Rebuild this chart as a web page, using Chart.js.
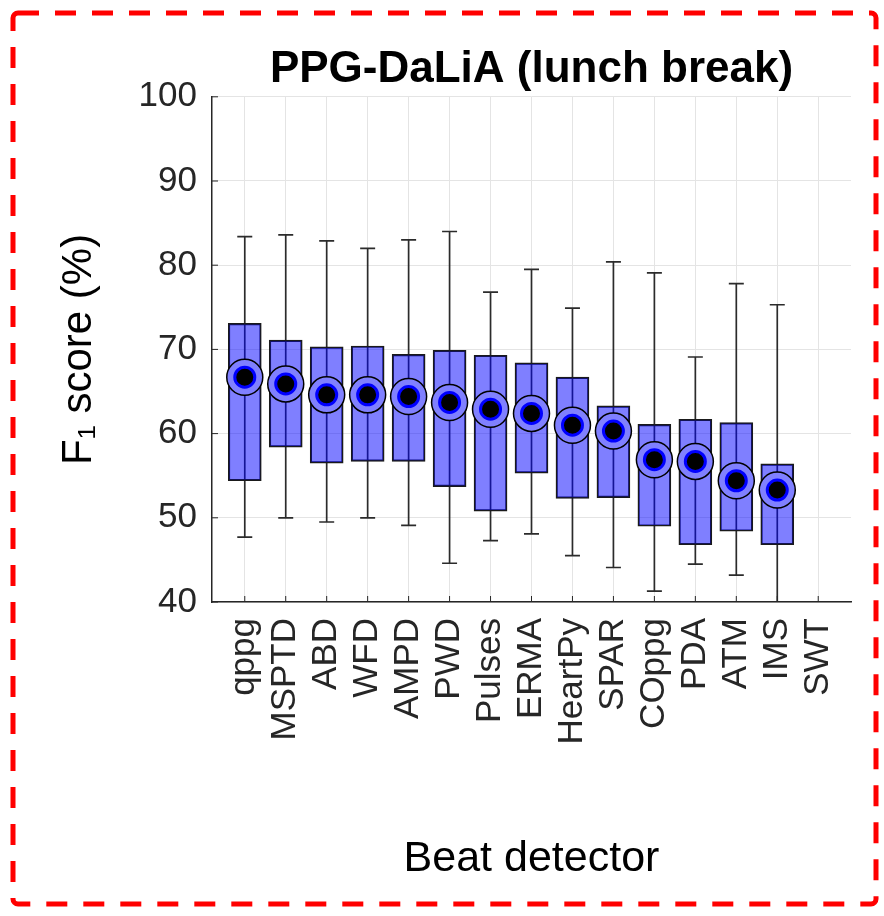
<!DOCTYPE html>
<html>
<head>
<meta charset="utf-8">
<title>PPG-DaLiA (lunch break)</title>
<script src="https://cdn.jsdelivr.net/npm/chart.js@4.4.1/dist/chart.umd.min.js"></script>
<style>
    html, body { margin: 0; padding: 0; background: #fff; }
    canvas { display: block; }
</style>
</head>
<body>
<canvas id="box-chart" width="884" height="916"></canvas>
<script>
// values (F1 score, %)
var categories = ["qppg", "MSPTD", "ABD", "WFD", "AMPD", "PWD", "Pulses", "ERMA", "HeartPy", "SPAR", "COppg", "PDA", "ATM", "IMS", "SWT"];
var whiskerHigh = [83.4, 83.6, 82.9, 82.0, 83.0, 84.0, 76.8, 79.5, 74.9, 80.4, 79.1, 69.1, 77.8, 75.3, null];
var q3 = [73.1, 71.1, 70.3, 70.4, 69.4, 69.9, 69.3, 68.4, 66.7, 63.3, 61.1, 61.7, 61.3, 56.4, null];
var median = [66.7, 65.9, 64.6, 64.6, 64.4, 63.7, 62.9, 62.4, 61.0, 60.3, 56.9, 56.7, 54.4, 53.3, null];
var q1 = [54.4, 58.4, 56.5, 56.7, 56.7, 53.7, 50.8, 55.3, 52.3, 52.4, 49.0, 46.8, 48.4, 46.8, null];
var whiskerLow = [47.7, 50.0, 49.5, 50.0, 49.1, 44.6, 47.3, 48.1, 45.5, 44.1, 41.3, 44.5, 43.2, 39.0, null];
var yTicks = [40, 50, 60, 70, 80, 90, 100];

var FONT = '"Liberation Sans", Arial, Helvetica, sans-serif';
var AXIS = '#262626';

function boxData() {
    var out = [];
    categories.forEach(function (c, i) {
        if (q1[i] !== null) out.push({x: i + 1, y: [q1[i], q3[i]]});
    });
    return out;
}

function medianData() {
    var out = [];
    categories.forEach(function (c, i) {
        if (median[i] !== null) out.push({x: i + 1, y: median[i]});
    });
    return out;
}

// whiskers + caps, drawn under the boxes
var whiskers = {
    id: 'whiskers',
    beforeDatasetsDraw: function (chart) {
        var ctx = chart.ctx, xs = chart.scales.x, ys = chart.scales.y, a = chart.chartArea;
        ctx.save();
        ctx.beginPath();
        ctx.rect(a.left, a.top, a.right - a.left, a.bottom - a.top);
        ctx.clip();
        ctx.strokeStyle = '#2b2b2b';
        ctx.lineWidth = 1.7;
        categories.forEach(function (c, i) {
            if (whiskerHigh[i] === null) return;
            var x = xs.getPixelForValue(i + 1);
            var yHi = ys.getPixelForValue(whiskerHigh[i]);
            var yLo = ys.getPixelForValue(whiskerLow[i]);
            ctx.beginPath();
            ctx.moveTo(x, yHi); ctx.lineTo(x, yLo);
            ctx.moveTo(x - 7.5, yHi); ctx.lineTo(x + 7.5, yHi);
            ctx.moveTo(x - 7.5, yLo); ctx.lineTo(x + 7.5, yLo);
            ctx.stroke();
        });
        ctx.restore();
    }
};

// white page, inward tick marks and the red dashed frame
var frame = {
    id: 'frame',
    beforeDraw: function (chart) {
        var ctx = chart.ctx;
        ctx.save();
        ctx.fillStyle = '#fff';
        ctx.fillRect(0, 0, chart.width, chart.height);
        ctx.restore();
    },
    afterDraw: function (chart) {
        var ctx = chart.ctx, xs = chart.scales.x, ys = chart.scales.y, a = chart.chartArea;
        ctx.save();
        ctx.strokeStyle = AXIS;
        ctx.lineWidth = 1;
        ctx.beginPath();
        yTicks.forEach(function (v) {
            var y = ys.getPixelForValue(v);
            ctx.moveTo(a.left, y); ctx.lineTo(a.left + 6, y);
        });
        categories.forEach(function (c, i) {
            var x = xs.getPixelForValue(i + 1);
            ctx.moveTo(x, a.bottom); ctx.lineTo(x, a.bottom - 6);
        });
        ctx.stroke();

        ctx.strokeStyle = '#ff0000';
        ctx.lineWidth = 5;
        ctx.setLineDash([21, 16]);
        ctx.beginPath();
        ctx.roundRect(13, 13, 863, 891, 5);
        ctx.stroke();
        ctx.restore();
    }
};

new Chart(document.getElementById('box-chart').getContext('2d'), {
    type: 'bar',
    data: {
        datasets: [
            {
                type: 'line',
                label: 'Median',
                data: medianData(),
                showLine: false,
                pointRadius: 10,
                pointHoverRadius: 10,
                pointBorderWidth: 3,
                pointBorderColor: '#0000ff',
                pointBackgroundColor: '#000000',
                order: 0
            },
            {
                type: 'line',
                label: 'Median ring',
                data: medianData(),
                showLine: false,
                pointRadius: 18,
                pointHoverRadius: 18,
                pointBorderWidth: 1.5,
                pointBorderColor: '#000000',
                pointBackgroundColor: '#8080ff',
                order: 1
            },
            {
                label: 'IQR',
                data: boxData(),
                backgroundColor: 'rgba(0, 0, 255, 0.5)',
                borderColor: '#1a1a1a',
                borderWidth: 1.5,
                borderSkipped: false,
                barThickness: 33,
                order: 2
            }
        ]
    },
    options: {
        responsive: false,
        animation: false,
        devicePixelRatio: 1,
        events: [],
        layout: {padding: {left: 0, right: 33, top: 0, bottom: 0}},
        plugins: {
            legend: {display: false},
            tooltip: {enabled: false},
            title: {
                display: true,
                fullSize: false,
                text: 'PPG-DaLiA (lunch break)',
                color: '#000',
                font: {family: FONT, size: 44, weight: 'bold', lineHeight: 1.2},
                padding: {top: 43, bottom: 1}
            }
        },
        scales: {
            x: {
                type: 'linear',
                min: 0.2,
                max: 15.8,
                offset: false,
                afterBuildTicks: function (scale) {
                    scale.ticks = categories.map(function (c, i) { return {value: i + 1}; });
                },
                afterFit: function (scale) { scale.height = 314; },
                grid: {color: '#e4e4e4', lineWidth: 1, drawTicks: false, offset: false},
                border: {display: true, color: AXIS, width: 1.5},
                ticks: {
                    autoSkip: false,
                    minRotation: 90,
                    maxRotation: 90,
                    padding: 16,
                    color: AXIS,
                    font: {family: FONT, size: 35},
                    callback: function (v) { return categories[v - 1]; }
                },
                title: {
                    display: true,
                    text: 'Beat detector',
                    color: '#000',
                    font: {family: FONT, size: 43, lineHeight: 1.2},
                    padding: {top: 0, bottom: 31}
                }
            },
            y: {
                min: 40,
                max: 100,
                afterFit: function (scale) { scale.width = 212; },
                grid: {color: '#e4e4e4', lineWidth: 1, drawTicks: false},
                border: {display: true, color: AXIS, width: 1.5},
                ticks: {
                    stepSize: 10,
                    padding: 15,
                    color: AXIS,
                    font: {family: FONT, size: 35}
                },
                title: {
                    display: true,
                    text: 'F\u2081 score (%)',
                    color: '#000',
                    font: {family: FONT, size: 42, lineHeight: 1.2},
                    padding: {top: 54, bottom: 0}
                }
            }
        }
    },
    plugins: [whiskers, frame]
});
</script>
</body>
</html>
